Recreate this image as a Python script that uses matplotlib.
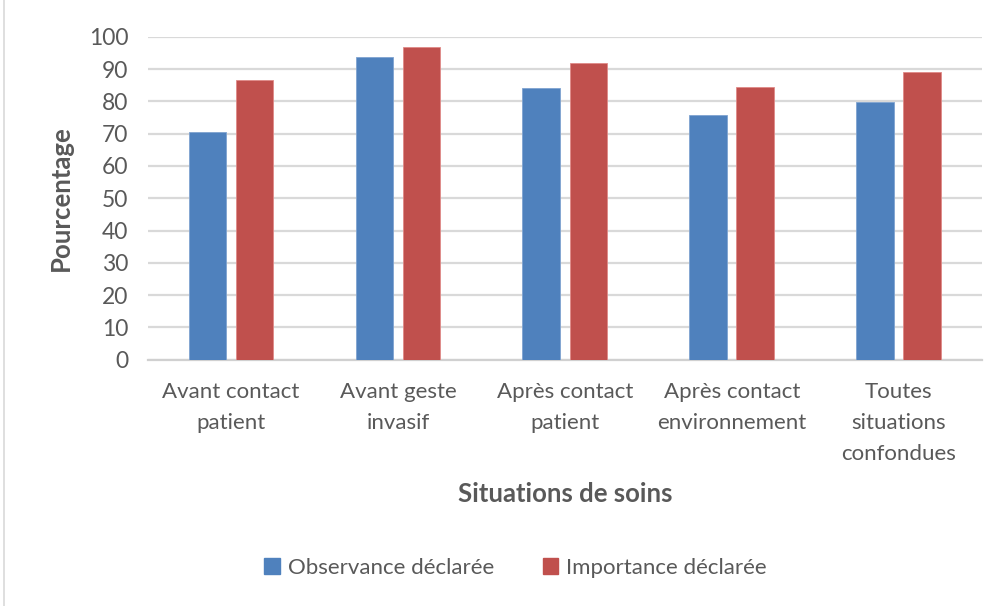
import matplotlib
matplotlib.use("Agg")
import matplotlib.pyplot as plt
import numpy as np
from matplotlib.patches import Rectangle, Patch

categories = ["Avant contact\npatient", "Avant geste\ninvasif", "Après contact\npatient",
              "Après contact\nenvironnement", "Toutes\nsituations\nconfondues"]
observance = [70.4, 93.6, 84.0, 75.7, 79.7]
importance = [86.6, 96.9, 91.8, 84.4, 89.2]
series_names = ["Observance déclarée", "Importance déclarée"]
yticks = [0, 10, 20, 30, 40, 50, 60, 70, 80, 90, 100]

plt.rcParams['font.family'] = ['Lato', 'DejaVu Sans']
gray = "#595959"
blue = "#4f81bd"
red = "#c0504d"

fig = plt.figure(figsize=(9.97, 6.06), dpi=100)
ax = fig.add_axes([0.148, 0.4064, 0.837, 0.533])

x = np.arange(len(categories))
w = 0.225
off = 0.141
ax.bar(x - off, observance, w, color=blue, edgecolor="#7fa3d0", linewidth=0.6, zorder=3)
ax.bar(x + off, importance, w, color=red, edgecolor="#e08a88", linewidth=0.6, zorder=3)

ax.set_xlim(-0.5, len(categories) - 0.5)
ax.set_ylim(0, 100)
ax.set_yticks(yticks)
ax.set_yticklabels([str(t) for t in yticks], fontsize=16.5, color=gray)
ax.set_xticks(x)
ax.set_xticklabels(categories, fontsize=16, color=gray, linespacing=1.7)
ax.tick_params(axis='both', length=0)
ax.tick_params(axis='y', pad=14)
ax.tick_params(axis='x', pad=16)
ax.grid(axis='y', color="#d9d9d9", linewidth=1.6, zorder=0)
for s in ["top", "right", "left"]:
    ax.spines[s].set_visible(False)
ax.spines["bottom"].set_color("#d0d0d0")
ax.spines["bottom"].set_linewidth(1.6)

ax.set_ylabel("Pourcentage", fontsize=18.5, fontweight='bold', color=gray, labelpad=11)
fig.text(0.5666, 1 - 494 / 606, "Situations de soins", fontsize=18.5, fontweight='bold',
         color=gray, ha='center', va='center')

handles = [Patch(facecolor=blue, edgecolor=blue), Patch(facecolor=red, edgecolor=red)]
fig.legend(handles, series_names, loc='center', bbox_to_anchor=(0.517, 1 - 568 / 606),
           ncol=2, frameon=False, fontsize=16, labelcolor=gray,
           handlelength=0.7, handleheight=0.75, handletextpad=0.35, columnspacing=2.2)

fig.patches.append(Rectangle((0.004, -0.01), 1.2, 1.2, transform=fig.transFigure,
                             fill=False, edgecolor="#d9d9d9", linewidth=1.2))

fig.savefig("out.png", dpi=100)
